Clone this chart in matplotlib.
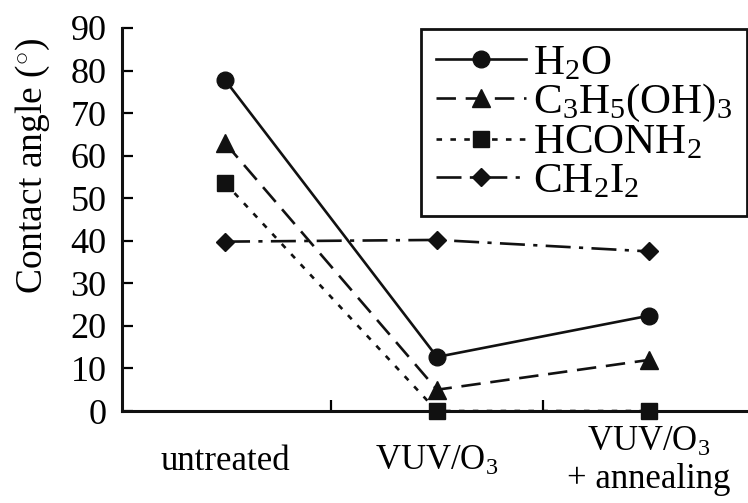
import matplotlib
matplotlib.use('Agg')
import matplotlib.pyplot as plt

plt.rcParams['font.family'] = ['Liberation Serif', 'DejaVu Serif']
plt.rcParams['mathtext.fontset'] = 'custom'
plt.rcParams['mathtext.rm'] = 'Liberation Serif'
plt.rcParams['mathtext.it'] = 'Liberation Serif:italic'
plt.rcParams['lines.scale_dashes'] = False

treatments = ['untreated', 'VUV/O$_3$', 'VUV/O$_3$\n+ annealing']
water = [77.8, 12.7, 22.4]
glycerol = [63.0, 5.0, 12.0]
formamide = [53.6, 0.0, 0.0]
diiodomethane = [39.8, 40.2, 37.5]

series = [
    ('H$_2$O', water, 'o', 12, '-'),
    ('C$_3$H$_5$(OH)$_3$', glycerol, '^', 13, (0, (14, 7))),
    ('HCONH$_2$', formamide, 's', 11, (0, (4, 6))),
    ('CH$_2$I$_2$', diiodomethane, 'D', 9, (0, (18, 6, 3, 6))),
]

fig = plt.figure(figsize=(7.48, 5.03), dpi=100)
ax = fig.add_axes([122 / 748, 1 - 411 / 503, 626 / 748, 383 / 503])

x = list(range(len(treatments)))
for label, vals, mk, ms, ls in series:
    ax.plot(x, vals, color='#111111', lw=1.9, ls=ls, marker=mk, ms=ms,
            mfc='#111111', mec='#111111', label=label, clip_on=False, zorder=3)

ax.set_xlim(-0.486, 2.467)
ax.set_ylim(0, 90)
ax.set_yticks(range(0, 91, 10))
ax.set_xticks([0.5, 1.5])
ax.set_xticklabels([])
ax.set_xticks(x, minor=True)
ax.set_xticklabels(treatments, minor=True)
ax.tick_params(axis='x', which='minor', length=0, pad=36, labelsize=25)
ax.tick_params(axis='x', which='major', direction='in', length=8, width=1.6)
ax.tick_params(axis='y', direction='in', length=8, width=1.6, labelsize=26, pad=11)
for t in ax.get_xticklabels(minor=True):
    t.set_verticalalignment('center')
    t.set_linespacing(1.15)

for side in ('top', 'right'):
    ax.spines[side].set_visible(False)
for side in ('left', 'bottom'):
    ax.spines[side].set_linewidth(2.2)
    ax.spines[side].set_color('#111111')

ax.set_ylabel('Contact angle ($^{\\circ}$)', fontsize=27)
ax.yaxis.set_label_coords(-0.112, 0.64)

leg = fig.legend(loc='upper right', bbox_to_anchor=(747 / 748, 1 - 29 / 503),
                 fontsize=31, frameon=True, fancybox=False, framealpha=1,
                 handlelength=2.1, handletextpad=0.15, labelspacing=-0.02,
                 borderpad=0.35, borderaxespad=0)
leg.get_frame().set_edgecolor('#111111')
leg.get_frame().set_linewidth(2.0)

fig.savefig('out.png', dpi=100)
